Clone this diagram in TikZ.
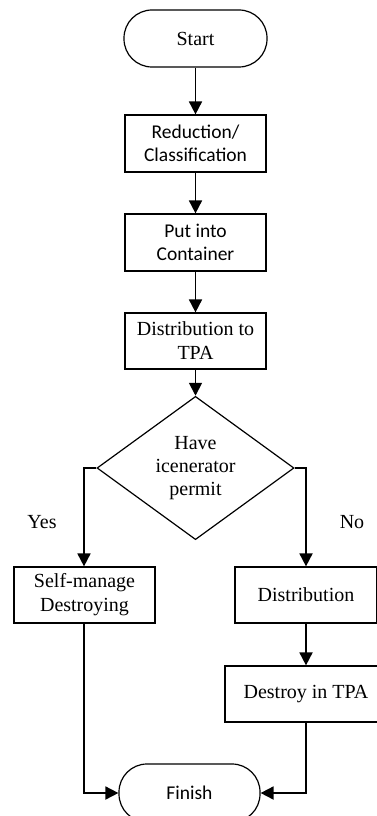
\documentclass[tikz,border=0pt]{standalone}
\usepackage{fontspec}
\setmainfont{Liberation Serif}
\newfontfamily\carlfont{Carlito}
\usetikzlibrary{arrows.meta,shapes.geometric}
\tikzset{
  boxnode/.style={draw, line width=1.2pt, rectangle, minimum width=141pt, minimum height=56pt, inner sep=0pt, align=center, font=\fontsize{20}{24}\selectfont},
  termnode/.style={boxnode, rounded corners=28pt},
  decnode/.style={draw, line width=1.2pt, diamond, minimum width=197pt, minimum height=110pt, inner sep=0pt, align=center, font=\fontsize{20}{23}\selectfont},
  sansfont/.style={font=\carlfont\fontsize{19.5}{23}\selectfont},
  conn/.style={line width=1.8pt, -{Triangle[length=13pt,width=13pt]}},
  lbl/.style={font=\fontsize{20}{24}\selectfont, inner sep=0pt}
}
\begin{document}
\begin{tikzpicture}[x=1pt,y=-1pt]
\clip (0,0) rectangle (377,816);
\node[termnode, minimum width=143pt, minimum height=57pt] (start) at (195.5,38.5) {Start};
\node[boxnode, sansfont, minimum height=57pt] (red) at (195.5,143.5) {Reduction/\\Classification};
\node[boxnode, sansfont, minimum height=57pt] (put) at (195.5,242.5) {Put into\\Container};
\node[boxnode] (dist) at (195.5,341) {Distribution to\\TPA};
\node[decnode] (dec) at (195.5,468) {Have\\icenerator\\permit};
\node[boxnode] (self) at (84.5,595) {Self-manage\\Destroying};
\node[boxnode, minimum width=142pt] (distr) at (306,595) {Distribution};
\node[boxnode, minimum width=162pt] (destroy) at (306,694) {Destroy in TPA};
\node[termnode, sansfont, minimum width=141pt, minimum height=58pt] (finish) at (189.5,793) {Finish};
\coordinate (yl) at (84,468);
\coordinate (nr) at (306,468);
\node[lbl] (yes) at (42,522) {Yes};
\node[lbl] (no) at (352,522) {No};
\draw[conn] (start) -- (red);
\draw[conn] (red) -- (put);
\draw[conn] (put) -- (dist);
\draw[conn] (dist) -- (dec);
\draw[conn] (dec.west) -- (yl) -- (self.north -| yl);
\draw[conn] (dec.east) -- (nr) -- (distr.north);
\draw[conn] (distr) -- (destroy);
\draw[conn] (self.south -| yl) |- (finish.west);
\draw[conn] (destroy.south) |- (finish.east);
\end{tikzpicture}
\end{document}
